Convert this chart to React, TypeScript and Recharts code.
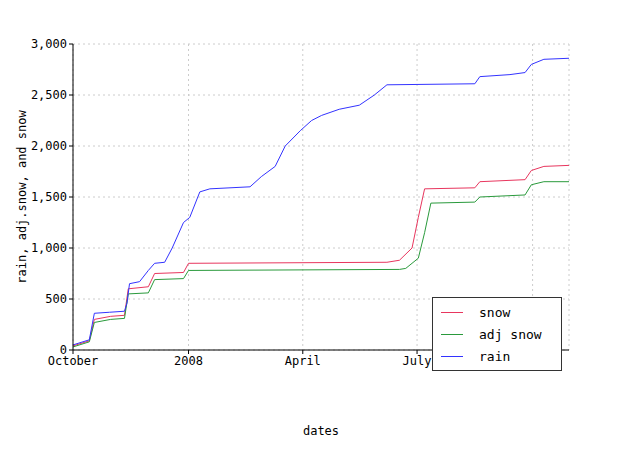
import { LineChart, Line, XAxis, YAxis, CartesianGrid } from 'recharts'

// x = days since 1 Oct 2007
const rainDays = [0, 13, 17, 29, 41, 43, 45, 53, 60, 65, 73, 79, 88, 93, 101, 109, 141, 150, 161, 169, 181, 190, 198, 212, 228, 240, 250, 320, 324, 348, 360, 365, 375, 395]
const rainVals = [50, 100, 360, 370, 380, 460, 650, 670, 780, 850, 860, 1000, 1250, 1300, 1550, 1580, 1600, 1700, 1800, 2000, 2150, 2250, 2300, 2360, 2400, 2500, 2600, 2610, 2680, 2700, 2720, 2800, 2850, 2860]
const snowDays = [0, 13, 17, 30, 41, 44, 60, 65, 88, 92, 250, 260, 270, 275, 280, 320, 324, 360, 365, 375, 395]
const snowVals = [40, 90, 300, 330, 340, 600, 620, 750, 760, 850, 860, 880, 1000, 1300, 1580, 1590, 1650, 1670, 1760, 1800, 1810]
const adjDays = [0, 13, 17, 30, 41, 44, 60, 65, 88, 92, 260, 265, 275, 280, 285, 320, 324, 360, 365, 375, 395]
const adjVals = [30, 80, 270, 300, 310, 550, 560, 690, 700, 780, 790, 800, 900, 1150, 1440, 1450, 1500, 1520, 1620, 1650, 1650]
const tickDays = [0, 92, 183, 274, 366]
const tickLabels = ['October', '2008', 'April', 'July', 'October']
const yTicks = [0, 500, 1000, 1500, 2000, 2500, 3000]

const toRows = (d: number[], v: number[]) => d.map((x, i) => ({ x, y: v[i] }))

const series = [
  { name: 'snow', color: '#e8365e', data: toRows(snowDays, snowVals) },
  { name: 'adj snow', color: '#2a9a3c', data: toRows(adjDays, adjVals) },
  { name: 'rain', color: '#3333ff', data: toRows(rainDays, rainVals) },
]

const font = '"DejaVu Sans Mono", monospace'

const LegendBox = () => (
  <div style={{ position: 'absolute', left: 432, top: 297, border: '1px solid #333', background: '#fff', padding: '3px 8px', width: 112, fontFamily: font, fontSize: 13 }}>
    {series.map(s => (
      <div key={s.name} style={{ display: 'flex', alignItems: 'center', height: 22 }}>
        <span style={{ display: 'inline-block', width: 22, height: 0, borderTop: `1px solid ${s.color}`, marginRight: 16 }} />
        {s.name}
      </div>
    ))}
  </div>
)

export default function App() {
  return (
    <div style={{ position: 'absolute', left: 0, top: 0, width: 623, height: 456, background: '#fff' }}>
      <LineChart width={623} height={456} margin={{ top: 44, right: 54, bottom: 76, left: 0 }}>
        <CartesianGrid stroke="#ccc" strokeDasharray="2 3" />
        <XAxis
          type="number"
          dataKey="x"
          domain={[0, 395]}
          ticks={tickDays}
          tickFormatter={(v: number) => tickLabels[tickDays.indexOf(v)]}
          tick={{ fill: '#000', fontSize: 12, fontFamily: font }}
          stroke="#000"
          tickSize={4}
          allowDuplicatedCategory={false}
          label={{ value: 'dates', position: 'bottom', offset: 46, fill: '#000', fontSize: 12, fontFamily: font }}
        />
        <YAxis
          type="number"
          domain={[0, 3000]}
          ticks={yTicks}
          width={73}
          tickFormatter={(v: number) => v.toLocaleString('en-US')}
          tick={{ fill: '#000', fontSize: 12, fontFamily: font }}
          stroke="#000"
          tickSize={4}
          label={{ value: 'rain, adj.snow, and snow', angle: -90, position: 'insideLeft', offset: 22, style: { textAnchor: 'middle' }, fill: '#000', fontSize: 12, fontFamily: font }}
        />
        {series.map(s => (
          <Line key={s.name} data={s.data} dataKey="y" name={s.name} stroke={s.color} strokeWidth={1} dot={false} type="linear" isAnimationActive={false} />
        ))}
      </LineChart>
      <LegendBox />
    </div>
  )
}
